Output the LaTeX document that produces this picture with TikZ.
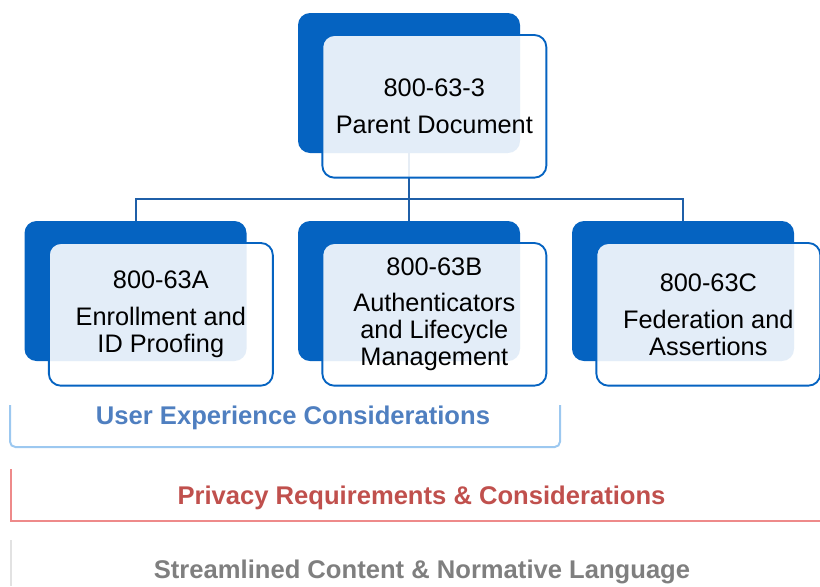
\documentclass[tikz,border=0pt]{standalone}
\usepackage{fontspec}
\setmainfont{Liberation Sans}
\usetikzlibrary{positioning}
\definecolor{darkblue}{HTML}{0563C1}
\definecolor{linkblue}{HTML}{1F5FA8}
\definecolor{uxtext}{HTML}{4F7FC0}
\definecolor{uxline}{HTML}{9CC8F0}
\definecolor{privtext}{HTML}{C0504D}
\definecolor{privline}{HTML}{EE8A8A}
\definecolor{normtext}{HTML}{7F7F7F}
\definecolor{normline}{HTML}{E2E2E2}

\begin{document}
\begin{tikzpicture}[x=0.75pt,y=-0.75pt,
	back/.style={rectangle, rounded corners=9pt, fill=darkblue, minimum width=166.5pt, minimum height=105pt},
	front/.style={rectangle, rounded corners=9pt, draw=darkblue, line width=1.4pt, fill=white, fill opacity=0.89, text opacity=1, minimum width=168pt, minimum height=107pt, xshift=19pt, yshift=-17.5pt, align=center, font=\fontsize{19}{20}\selectfont},
	link/.style={draw=linkblue, line width=1.5pt},
	band/.style={font=\bfseries\fontsize{19.2}{20}\selectfont}]
		\useasboundingbox (0,0) rectangle (820,586);

		\node[back								] (PARENT_B) 	at (409,83)		{};
		\node[back								] (ENROL_B) 	at (135.5,291)	{};
		\node[back								] (AUTH_B) 		at (409,291)	{};
		\node[back								] (FED_B) 		at (683,291)	{};
		\coordinate (BUS) at (409,199);

		\draw[link]	(PARENT_B.south)	--	(BUS)
				(BUS)			-|	(ENROL_B.north)
				(BUS)			--	(AUTH_B.north)
				(BUS)			-|	(FED_B.north);

		\node[front								] (PARENT) 		at (PARENT_B)	{800-63-3\\[8pt]Parent Document};
		\node[front								] (ENROL) 		at (ENROL_B)	{800-63A\\[8pt]Enrollment and\\ID Proofing};
		\node[front								] (AUTH) 		at (AUTH_B)		{800-63B\\[7pt]Authenticators\\and Lifecycle\\Management};
		\node[front								] (FED) 		at (FED_B)		{800-63C\\[8pt]Federation and\\Assertions};

		\node[band, text=uxtext					] (UX) 			at (293,418)	{User Experience Considerations};
		\node[band, text=privtext				] (PRIV) 		at (421.5,498)	{Privacy Requirements \& Considerations};
		\node[band, text=normtext				] (NORM) 		at (422,572)	{Streamlined Content \& Normative Language};

		\draw[uxline, line width=1.5pt, rounded corners=4pt]	(10,405) -- (10,447) -- (560,447) -- (560,405);
		\draw[privline, line width=1.5pt]	(11,469) -- (11,521) -- (820,521);
		\draw[normline, line width=1.5pt]	(11,540) -- (11,586);
	\end{tikzpicture}
\end{document}
